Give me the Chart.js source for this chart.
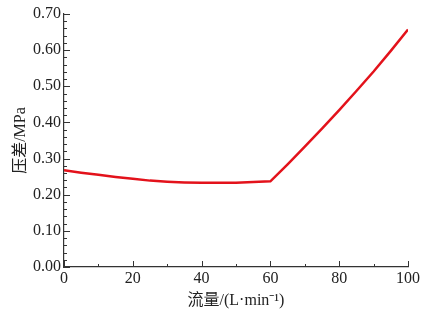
<!DOCTYPE html>
<html>
<head>
<meta charset="utf-8">
<script src="https://cdn.jsdelivr.net/npm/chart.js@4"></script>
<style>
  html, body { margin: 0; padding: 0; background: #fff; }
  #wrap { width: 440px; height: 311px; }
</style>
</head>
<body>
<div id="wrap"><canvas id="myChart" width="440" height="311"></canvas></div>
<script>
// flow (L/min) and pressure drop (MPa)
const flows = [0, 5, 10, 15, 20, 25, 30, 35, 40, 45, 50, 55, 60, 65, 70, 75, 80, 85, 90, 95, 100];
const pressure = [0.268, 0.261, 0.255, 0.249, 0.244, 0.239, 0.236, 0.234, 0.233, 0.233, 0.233, 0.235, 0.237,
                  0.284, 0.333, 0.383, 0.434, 0.487, 0.541, 0.598, 0.657];
const yTicks = [0, 0.1, 0.2, 0.3, 0.4, 0.5, 0.6, 0.7];
const xTicks = [0, 20, 40, 60, 80, 100];

const axisColor = '#333';
const serif = "'Liberation Serif', 'Times New Roman', 'Noto Sans CJK SC', serif";

// inward tick marks (major + minor) like the original figure
const inwardTicks = {
    id: 'inwardTicks',
    afterDraw(chart) {
        const ctx = chart.ctx;
        const x = chart.scales.x;
        const y = chart.scales.y;
        const area = chart.chartArea;
        ctx.save();
        ctx.strokeStyle = axisColor;
        ctx.lineWidth = 1;
        ctx.beginPath();
        for (let v = 0; v <= 100.001; v += 10) {
            const px = Math.round(x.getPixelForValue(v)) + 0.5;
            const len = (v % 20 === 0) ? 6 : 3;
            ctx.moveTo(px, area.bottom);
            ctx.lineTo(px, area.bottom - len);
        }
        for (let i = 0; i <= 35; i++) {
            const py = Math.round(y.getPixelForValue(i * 0.02)) + 0.5;
            const len = (i % 5 === 0) ? 6 : 3;
            ctx.moveTo(area.left, py);
            ctx.lineTo(area.left + len, py);
        }
        ctx.stroke();
        ctx.restore();
    }
};

const data = {
    datasets: [{
        data: flows.map((f, i) => ({ x: f, y: pressure[i] })),
        borderColor: '#e3121b',
        borderWidth: 2.5,
        pointRadius: 0,
        tension: 0,
        fill: false
    }]
};

const config = {
    type: 'line',
    data: data,
    options: {
        responsive: false,
        animation: false,
        layout: { padding: { left: 0, top: 14, right: 32, bottom: 0 } },
        plugins: { legend: { display: false }, tooltip: { enabled: false } },
        scales: {
            x: {
                type: 'linear',
                min: 0, max: 100,
                afterBuildTicks: s => { s.ticks = xTicks.map(v => ({ value: v })); },
                afterFit: s => { s.height = 44; },
                grid: { display: false, drawTicks: false },
                border: { display: true, color: axisColor, width: 1.2 },
                ticks: {
                    padding: 2,
                    color: '#222',
                    font: { family: serif, size: 16 },
                    maxRotation: 0
                },
                title: {
                    display: true,
                    text: '流量/(L·min⁻¹)',
                    color: '#222',
                    font: { family: serif, size: 16 },
                    padding: { top: 0, bottom: 1 }
                }
            },
            y: {
                min: 0, max: 0.7,
                afterBuildTicks: s => { s.ticks = yTicks.map(v => ({ value: v })); },
                afterFit: s => { s.width = 64; },
                grid: { display: false, drawTicks: false },
                border: { display: true, color: axisColor, width: 1.2 },
                ticks: {
                    padding: 3,
                    color: '#222',
                    font: { family: serif, size: 16 },
                    callback: v => Number(v).toFixed(2)
                },
                title: {
                    display: true,
                    text: '压差/MPa',
                    color: '#222',
                    font: { family: serif, size: 16 },
                    padding: { top: 11, bottom: 0 }
                }
            }
        }
    },
    plugins: [inwardTicks]
};

const myChart = new Chart(document.getElementById('myChart'), config);
</script>
</body>
</html>
